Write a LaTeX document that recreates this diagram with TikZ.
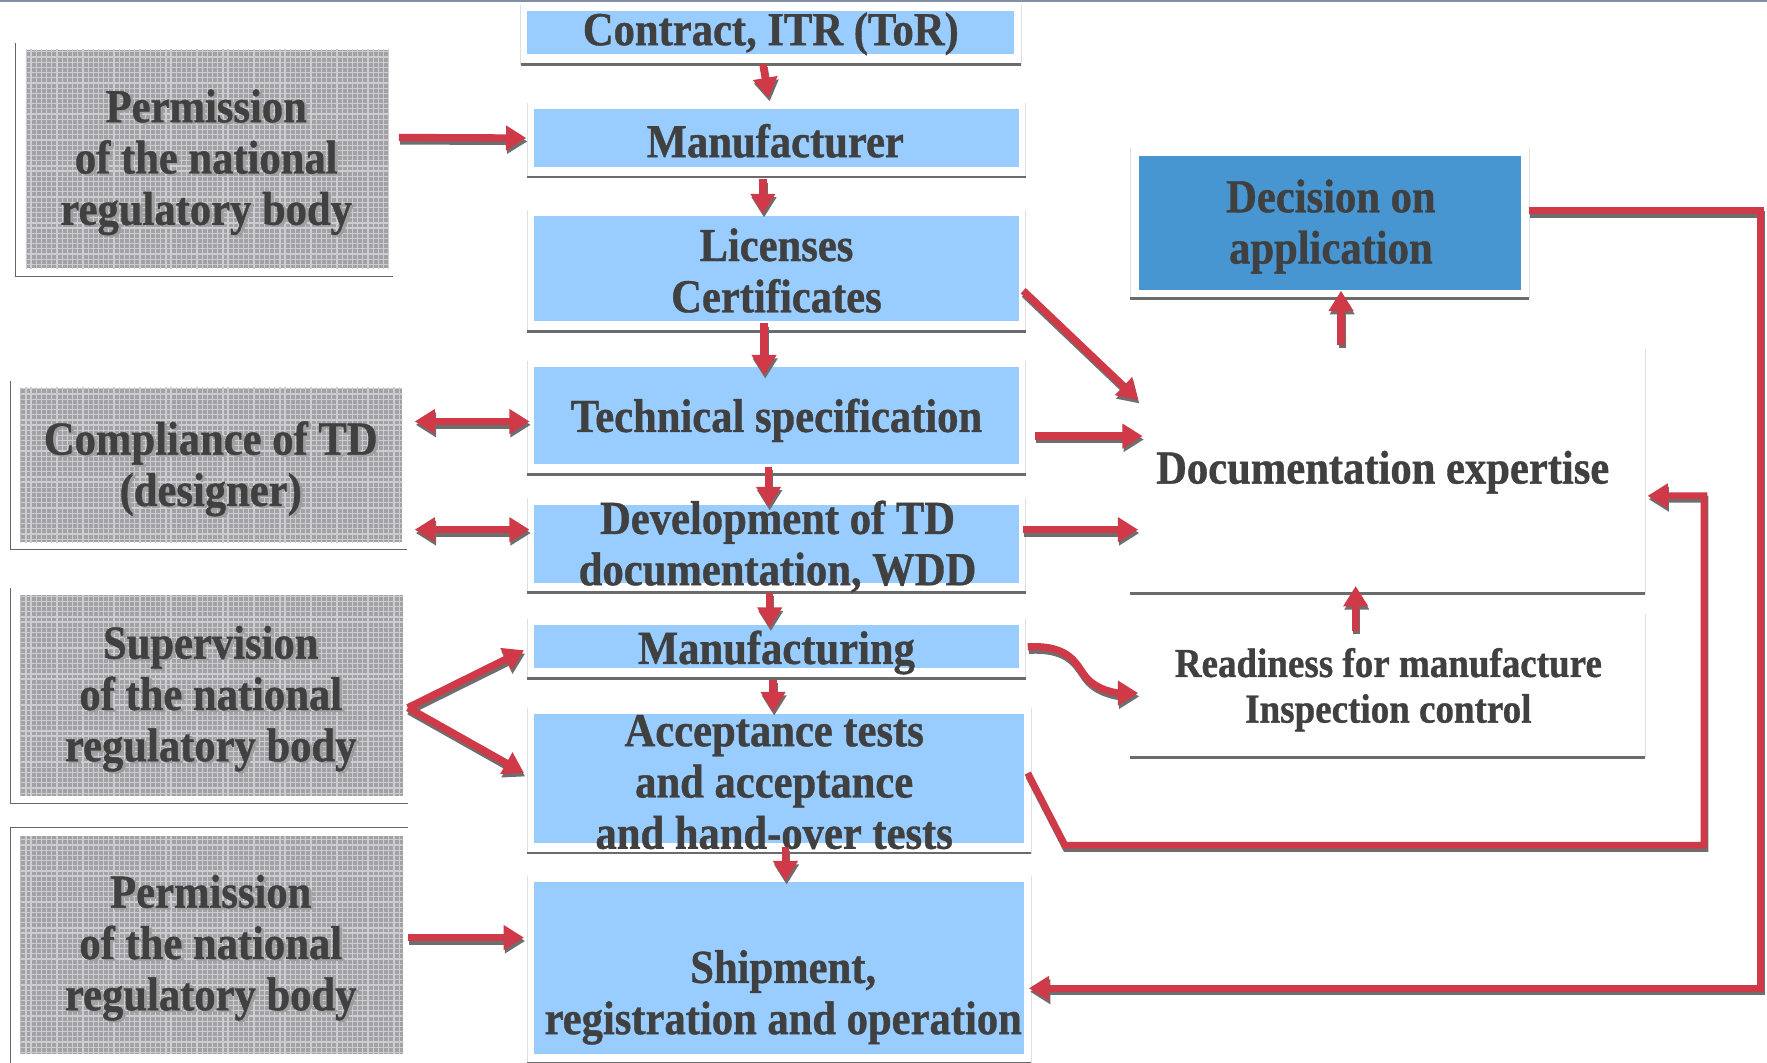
\documentclass[tikz,border=0pt]{standalone}
\usepackage{fontspec}
\setmainfont{Liberation Serif}[FakeStretch=0.9, BoldFeatures={FakeBold=0.8}]
\usetikzlibrary{arrows.meta}
\definecolor{lblue}{HTML}{99CCFF}
\definecolor{dblue}{HTML}{4796D1}
\definecolor{txtc}{HTML}{404040}
\definecolor{arred}{HTML}{D03A48}
\definecolor{shad}{HTML}{6E6E6E}
\definecolor{gfill}{HTML}{A2A2A6}
\definecolor{ggrid}{HTML}{CDCDD1}
\definecolor{topline}{HTML}{8090A8}
\newcommand\sarr[2][rarr]{\draw[#1, shd] #2; \draw[#1] #2;}
\begin{document}
\begin{tikzpicture}[x=1pt,y=-1pt,
  bluebox/.style={fill=lblue, inner sep=0pt, outer sep=0pt},
  decbox/.style={fill=dblue, inner sep=0pt, outer sep=0pt},
  graybox/.style={fill=gfill, inner sep=0pt, outer sep=0pt},
  plainbox/.style={inner sep=0pt, outer sep=0pt},
  txt/.style={text=txtc, font=\fontsize{42}{45.5}\selectfont\bfseries, align=center, inner sep=0pt},
  shtxt/.style={txt, text=gray!75},
  smalltxt/.style={txt, font=\fontsize{36.5}{40.5}\selectfont\bfseries},
  gridl/.style={draw=ggrid, line width=1.1pt},
  frameb/.style={draw=black!58, line width=2.5pt},
  framel/.style={draw=gray!25, line width=0.6pt},
  gframe/.style={draw=gray!80!black, line width=0.9pt},
  rarr/.style={draw=arred, line width=6.5pt, -{Triangle[length=18pt,width=21pt]}},
  darr/.style={rarr, {Triangle[length=18pt,width=21pt]}-{Triangle[length=18pt,width=21pt]}},
  larr/.style={rarr, line width=6pt},
  shd/.style={draw=shad, transform canvas={shift={(1pt,-3pt)}}},
]
\useasboundingbox (0,0) rectangle (1568,943);
\fill[white] (0,0) rectangle (1568,943);
\draw[topline, line width=2pt] (0,1) -- (1568,1);

% ---------- center column ----------
\node[bluebox, minimum width=432pt, minimum height=38pt]  (contract) at (684,29) {};
\node[bluebox, minimum width=430pt, minimum height=51pt]  (manuf)    at (689,122.5) {};
\node[bluebox, minimum width=430pt, minimum height=93pt]  (lic)      at (689,238.5) {};
\node[bluebox, minimum width=430pt, minimum height=86pt]  (tech)     at (689,369) {};
\node[bluebox, minimum width=430pt, minimum height=69pt]  (dev)      at (689,482.5) {};
\node[bluebox, minimum width=430pt, minimum height=38pt]  (mfg)      at (689,574) {};
\node[bluebox, minimum width=435pt, minimum height=114pt] (acc)      at (691.5,691) {};
\node[bluebox, minimum width=435pt, minimum height=152pt] (ship)     at (691.5,859) {};

\foreach \n in {contract,manuf,lic,tech,dev,mfg,acc,ship}{
  \draw[framel] ([shift={(-6pt,6pt)}]\n.north west) -- ([shift={(-6pt,-9pt)}]\n.south west)
     -- ([shift={(6pt,-9pt)}]\n.south east) -- ([shift={(6pt,6pt)}]\n.north east);
  \draw[frameb] ([shift={(-6pt,-9pt)}]\n.south west) -- ([shift={(6pt,-9pt)}]\n.south east);
}

% ---------- left column ----------
\node[graybox, minimum width=322pt, minimum height=194pt] (perm1) at (184,141) {};
\node[graybox, minimum width=339pt, minimum height=137pt] (comp)  at (187.5,412.5) {};
\node[graybox, minimum width=340pt, minimum height=178pt] (sup)   at (188,617) {};
\node[graybox, minimum width=340pt, minimum height=193pt] (perm2) at (188,838.5) {};
\foreach \n in {perm1,comp,sup,perm2}{
  \begin{scope}
    \clip (\n.south west) rectangle (\n.north east);
    \draw[gridl, step=4.6pt] ([shift={(-5pt,-5pt)}]\n.south west) grid ([shift={(5pt,5pt)}]\n.north east);
  \end{scope}
}
\foreach \n in {perm1,comp,sup}{
  \draw[gframe] ([shift={(-9pt,6pt)}]\n.north west) -- ([shift={(-9pt,-7pt)}]\n.south west)
     -- ([shift={(4pt,-7pt)}]\n.south east);
}
\draw[gframe] ([shift={(4pt,8pt)}]perm2.north east) -- ([shift={(-9pt,8pt)}]perm2.north west)
   -- ([shift={(-9pt,-10pt)}]perm2.south west);

% ---------- right column ----------
\node[decbox, minimum width=339pt, minimum height=119pt] (dec) at (1180.5,197.5) {};
\draw[framel] ([shift={(-8pt,7pt)}]dec.north west) -- ([shift={(-8pt,-8pt)}]dec.south west);
\draw[framel] ([shift={(7pt,7pt)}]dec.north east) -- ([shift={(7pt,-8pt)}]dec.south east);
\draw[frameb] ([shift={(-8pt,-8pt)}]dec.south west) -- ([shift={(7pt,-8pt)}]dec.south east);

\node[plainbox, minimum width=457pt, minimum height=217pt] (docexp) at (1231.5,418.5) {};
\draw[framel] (docexp.north east) -- (docexp.south east);
\draw[frameb] (docexp.south west) -- (docexp.south east);

\node[plainbox, minimum width=457pt, minimum height=127pt] (ready) at (1231.5,608.5) {};
\draw[framel] (ready.north east) -- (ready.south east);
\draw[frameb] (ready.south west) -- (ready.south east);

% ---------- texts ----------
\node[txt] (tcontract) at (684,30) {Contract, ITR (ToR)};
\node[txt] (tmanuf) at (688,125) {Manufacturer};
\node[txt] (tlic) at (689,240) {Licenses\\Certificates};
\node[txt] (ttech) at (689,373) {Technical specification};
\node[txt] (tdev) at (690,485) {Development of TD\\documentation, WDD};
\node[txt] (tmfg) at (689,579) {Manufacturing};
\node[txt] (tacc) at (687,694) {Acceptance tests\\and acceptance\\and hand-over tests};
\node[txt] (tship) at (695,885) {Shipment,\\registration and operation};

\node[shtxt] at (185.5,145.5) {Permission\\of the national\\regulatory body};
\node[txt] (tperm1) at (183,144) {Permission\\of the national\\regulatory body};
\node[shtxt] at (189.5,417.5) {Compliance of TD\\(designer)};
\node[txt] (tcomp) at (187,416) {Compliance of TD\\(designer)};
\node[shtxt] at (189.5,621.5) {Supervision\\of the national\\regulatory body};
\node[txt] (tsup) at (187,620) {Supervision\\of the national\\regulatory body};
\node[shtxt] at (189.5,842.5) {Permission\\of the national\\regulatory body};
\node[txt] (tperm2) at (187,841) {Permission\\of the national\\regulatory body};

\node[txt] (tdec) at (1181,201) {Decision on\\application};
\node[txt] (tdocexp) at (1227,419) {Documentation expertise};
\node[smalltxt] (tready) at (1232,612) {Readiness for manufacture\\Inspection control};

% ---------- arrows ----------
\sarr{([shift={(-7pt,-9pt)}]contract.south) -- ([shift={(-7pt,10pt)}]manuf.north)}
\sarr{([shift={(-12pt,-11pt)}]manuf.south) -- ([shift={(-12pt,2pt)}]lic.north)}
\sarr{([shift={(-11pt,-2pt)}]lic.south) -- ([shift={(-11pt,-7pt)}]tech.north)}
\sarr{([shift={(-7pt,-2pt)}]tech.south) -- ([shift={(-7pt,-2pt)}]dev.north)}
\sarr{([shift={(-6pt,-9pt)}]dev.south) -- ([shift={(-6pt,-2pt)}]mfg.north)}
\sarr{([shift={(-3pt,-10pt)}]mfg.south) -- ([shift={(-5.5pt,2pt)}]acc.north)}
\sarr{([shift={(5.5pt,-4pt)}]acc.south) -- ([shift={(5.5pt,1pt)}]ship.north)}

\sarr{([shift={(9pt,19pt)}]perm1.east) -- ([shift={(-7pt,0pt)}]manuf.west)}
\sarr[darr]{([shift={(11pt,38.5pt)}]comp.east) -- ([shift={(-4pt,-5pt)}]tech.west)}
\sarr[darr]{([shift={(11pt,-57.5pt)}]comp.east) -- ([shift={(-4pt,12.5pt)}]dev.west)}
\sarr{([shift={(4pt,-11pt)}]sup.east) -- ([shift={(-9pt,-3pt)}]mfg.west)}
\sarr{([shift={(4pt,-11pt)}]sup.east) -- ([shift={(-9pt,5pt)}]acc.west)}
\sarr{([shift={(4pt,6.5pt)}]perm2.east) -- ([shift={(-9pt,27pt)}]ship.west)}

\sarr{([shift={(4pt,-19.5pt)}]lic.east) -- ([shift={(7pt,63.5pt)}]docexp.west)}
\sarr{([shift={(14pt,-18pt)}]tech.east) -- ([shift={(11pt,31.5pt)}]docexp.west)}
\sarr{([shift={(4pt,12.5pt)}]dev.east) -- ([shift={(7pt,-51.5pt)}]docexp.west)}
\sarr{([shift={(-41.5pt,4pt)}]docexp.north) -- ([shift={(9.5pt,-1pt)}]dec.south)}
\sarr{([shift={(-28.5pt,-15pt)}]ready.north) -- ([shift={(-28.5pt,7pt)}]docexp.south)}
\sarr{([shift={(8pt,0pt)}]mfg.east) .. controls (950,572) and (955,590) .. (963,600)
   .. controls (972,612) and (990,615) .. ([shift={(7pt,-6.5pt)}]ready.west)}

\coordinate (b1) at (945,750);
\coordinate (b2) at (1512,750);
\coordinate (b3) at (1512,440);
\sarr[larr]{([shift={(3pt,5pt)}]acc.east) -- (b1) -- (b2) -- (b3) -- ([shift={(2pt,-21.5pt)}]docexp.east)}
\coordinate (c1) at (1562,187);
\coordinate (c2) at (1562,877);
\sarr[larr]{([shift={(7pt,10.5pt)}]dec.east) -- (c1) -- (c2) -- ([shift={(4pt,-18pt)}]ship.east)}
\end{tikzpicture}
\end{document}
